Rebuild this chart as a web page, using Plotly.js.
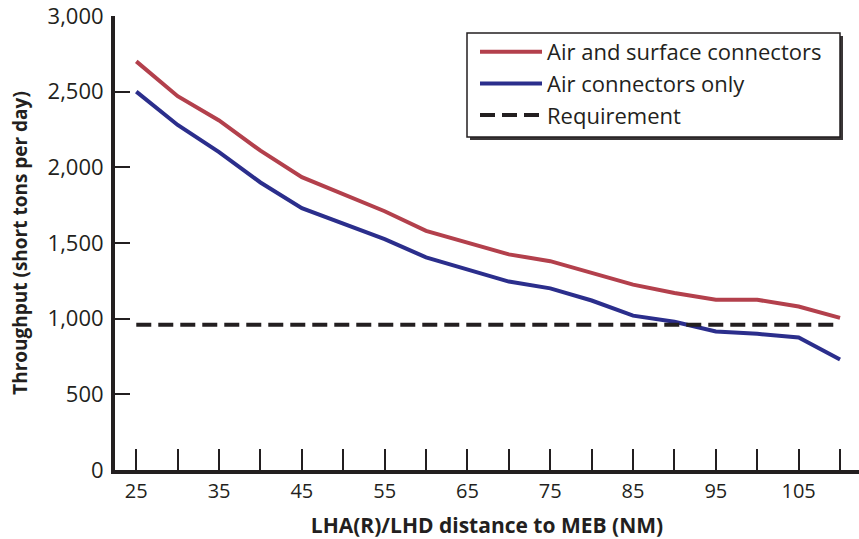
<!DOCTYPE html>
<html>
<head>
<meta charset="utf-8">
<script src="https://cdn.plot.ly/plotly-3.0.1.min.js"></script>
<style>html,body{margin:0;padding:0;background:#fff;}#chart{width:859px;height:539px;}</style>
</head>
<body>
<div id="chart"></div>
<script>
const distance = [25, 30, 35, 40, 45, 50, 55, 60, 65, 70, 75, 80, 85, 90, 95, 100, 105, 110];
const airAndSurface = [2700, 2470, 2310, 2110, 1935, 1825, 1710, 1580, 1500, 1425, 1380, 1300, 1225, 1170, 1125, 1125, 1080, 1005];
const airOnly = [2500, 2280, 2100, 1900, 1730, 1630, 1525, 1405, 1325, 1245, 1200, 1120, 1020, 980, 915, 900, 875, 730];
const requirementValue = 960;
const requirement = distance.map(() => requirementValue);
const xTickVals = [25, 30, 35, 40, 45, 50, 55, 60, 65, 70, 75, 80, 85, 90, 95, 100, 105, 110];
const xTickText = ['25', '', '35', '', '45', '', '55', '', '65', '', '75', '', '85', '', '95', '', '105', ''];
const yTickVals = [0, 500, 1000, 1500, 2000, 2500, 3000];
const yTickText = ['0', '500', '1,000', '1,500', '2,000', '2,500', '3,000'];

const ink = '#231f20';
const FONT = '"Open Sans", "Noto Sans", sans-serif';

const traces = [
  {x: distance, y: airAndSurface, name: 'Air and surface connectors', mode: 'lines',
   line: {color: '#b3404c', width: 4}},
  {x: distance, y: airOnly, name: 'Air connectors only', mode: 'lines',
   line: {color: '#2b2e8c', width: 4}},
  {x: distance, y: requirement, name: 'Requirement', mode: 'lines',
   line: {color: ink, width: 4, dash: '15px,7px'}}
];

// legend frame + drop shadow (pixel box converted to paper coords)
const L = 115, PW = 744, T = 16, PH = 454;
const px = v => (v - L) / PW;
const py = v => (T + PH - v) / PH;

const layout = {
  width: 859, height: 539,
  margin: {l: 115, r: 0, t: 16, b: 69, pad: 0},
  paper_bgcolor: '#fff', plot_bgcolor: '#fff',
  font: {family: FONT, color: ink, size: 20},
  showlegend: true,
  legend: {
    x: px(475), y: py(31), xanchor: 'left', yanchor: 'top',
    bgcolor: 'rgba(0,0,0,0)', borderwidth: 0,
    font: {family: FONT, size: 22, color: ink},
    itemwidth: 62, tracegroupgap: 0
  },
  shapes: [
    {type: 'rect', xref: 'paper', yref: 'paper', x0: px(470), x1: px(843), y0: py(36), y1: py(140),
     fillcolor: '#3a3637', line: {width: 0}, layer: 'above'},
    {type: 'rect', xref: 'paper', yref: 'paper', x0: px(467), x1: px(840), y0: py(33), y1: py(137),
     fillcolor: '#ffffff', line: {width: 1.5, color: ink}, layer: 'above'}
  ],
  xaxis: {
    range: [22.43, 112.29], tickmode: 'array', tickvals: xTickVals, ticktext: xTickText,
    ticks: 'inside', ticklen: 21, tickwidth: 2, tickcolor: ink,
    showline: true, linecolor: ink, linewidth: 4, showgrid: false, zeroline: false,
    tickfont: {family: FONT, size: 20, color: ink}, ticklabeloverflow: 'allow',
    title: {text: 'LHA(R)/LHD distance to MEB (NM)', font: {family: FONT, size: 21, color: ink, weight: 'bold'}, standoff: 16}
  },
  yaxis: {
    range: [0, 3000], tickmode: 'array', tickvals: yTickVals, ticktext: yTickText,
    ticks: 'inside', ticklen: 15, tickwidth: 2, tickcolor: ink,
    showline: true, linecolor: ink, linewidth: 4, showgrid: false, zeroline: false,
    tickfont: {family: FONT, size: 22, color: ink}, ticklabelstandoff: 3, ticklabeloverflow: 'allow',
    title: {text: 'Throughput (short tons per day)', font: {family: FONT, size: 19, color: ink, weight: 'bold'}, standoff: 16}
  }
};

Plotly.newPlot('chart', traces, layout, {displayModeBar: false, staticPlot: true});
</script>
</body>
</html>
